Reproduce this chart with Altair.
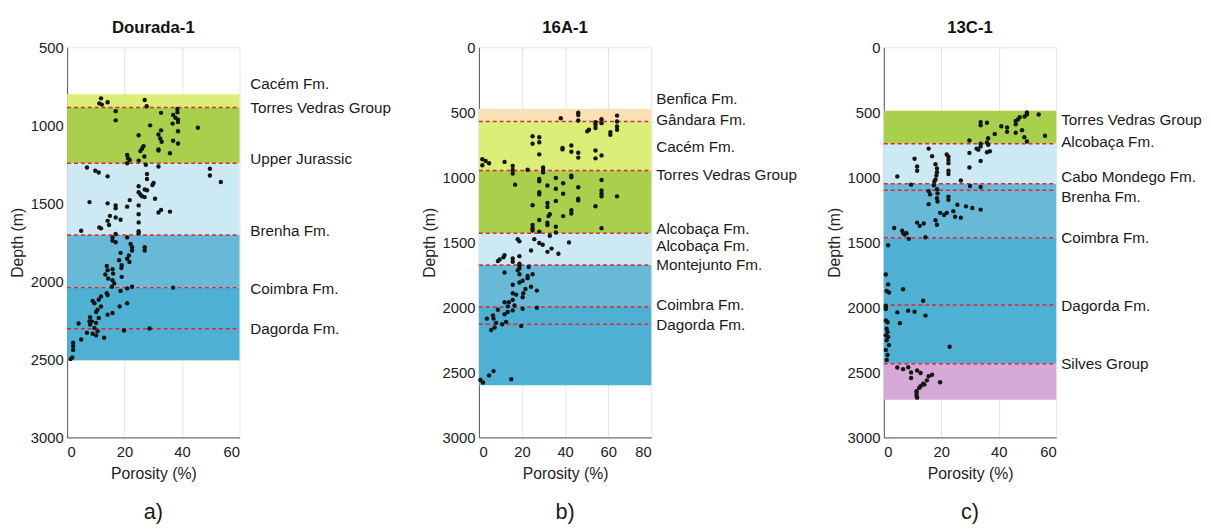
import altair as alt
import pandas as pd

W, H = 175, 396
FONT = "Liberation Sans"

# ---------------- Dourada-1 ----------------
a_points = [
    (11.8, 827), (11.2, 859), (12.1, 867), (14.1, 852), (27.0, 838), (27.7, 878), (16.9, 909), (16.9, 968),
    (32.7, 920), (38.4, 895), (38.4, 916), (36.9, 933), (37.7, 951), (38.6, 964), (38.6, 979), (36.7, 989),
    (28.9, 1000), (45.5, 1015), (38.6, 1038), (32.7, 1032), (31.8, 1059), (32.4, 1084), (32.9, 1105),
    (24.9, 1063), (36.9, 1099), (38.6, 1116), (26.6, 1133), (26.1, 1148), (25.5, 1165), (31.8, 1154),
    (31.8, 1162), (35.8, 1179), (26.9, 1200), (20.9, 1190), (21.2, 1211), (21.8, 1222), (20.9, 1243),
    (24.9, 1226), (27.4, 1253), (31.8, 1264), (6.9, 1270), (9.8, 1291), (11.0, 1302), (14.1, 1327),
    (27.8, 1312), (27.8, 1344), (49.7, 1278), (49.7, 1321), (53.5, 1363), (30.1, 1369), (29.7, 1382),
    (24.9, 1390), (27.0, 1411), (27.8, 1416), (24.9, 1428), (25.5, 1443), (26.1, 1454), (27.0, 1460),
    (30.6, 1470), (21.8, 1479), (20.9, 1521), (7.8, 1492), (14.1, 1500), (16.9, 1513), (16.9, 1532),
    (24.9, 1513), (32.7, 1542), (31.8, 1559), (35.8, 1553), (14.9, 1580), (16.9, 1591), (18.6, 1605),
    (14.1, 1612), (14.6, 1639), (11.2, 1654), (11.8, 1660), (24.9, 1570), (24.9, 1622), (24.9, 1679),
    (24.9, 1692), (4.9, 1675), (16.9, 1696),
    (15.8, 1718), (15.8, 1739), (16.9, 1749), (20.9, 1718), (22.1, 1760), (22.6, 1781), (22.6, 1802),
    (27.0, 1781), (27.0, 1802), (18.6, 1817), (21.5, 1834), (20.9, 1855), (21.7, 1876), (18.1, 1865),
    (19.0, 1897), (18.9, 1914), (13.8, 1901), (14.1, 1928), (13.3, 1956), (15.8, 1922), (16.0, 1950),
    (14.3, 1981), (15.8, 1992), (16.4, 2013), (19.0, 1971), (15.6, 2034), (18.6, 2061), (20.9, 2045),
    (22.6, 2034), (36.9, 2040), (13.8, 2076), (14.1, 2087), (11.8, 2097), (11.0, 2118), (8.9, 2125),
    (9.5, 2140), (11.8, 2161), (10.6, 2182), (10.1, 2196), (18.3, 2161), (20.9, 2140), (14.1, 2213),
    (15.8, 2203), (8.0, 2230), (7.8, 2256), (8.6, 2256), (11.0, 2234), (10.1, 2266), (8.0, 2277),
    (4.0, 2270), (9.5, 2298), (10.6, 2319), (8.9, 2336), (10.1, 2346), (6.9, 2329), (4.9, 2372),
    (12.9, 2361), (19.8, 2315), (28.7, 2302), (2.1, 2393), (2.1, 2414), (2.1, 2439), (1.8, 2488),
    (1.2, 2498),
]
a_band_top = [800, 885, 1243, 1702, 2040]
a_band_bottom = [885, 1243, 1702, 2040, 2505]
a_band_color = ["#dcee78", "#a8d04c", "#cde9f3", "#68b9d8", "#4eb0d3"]
a_lines = [885, 1243, 1702, 2040, 2304]
a_labels = ["Cacém Fm.", "Torres Vedras Group", "Upper Jurassic", "Brenha Fm.", "Coimbra Fm.", "Dagorda Fm."]
a_label_depth = [735, 892, 1215, 1677, 2051, 2304]

# ---------------- 16A-1 ----------------
b_points = [
    (46.1, 503), (46.1, 520), (46.1, 563), (38.0, 545), (64.1, 525), (64.1, 571), (64.1, 609), (64.1, 634),
    (56.9, 553), (56.9, 583), (54.1, 576), (54.1, 596), (54.1, 621), (50.3, 646), (51.1, 634), (61.0, 652),
    (61.0, 672), (24.9, 684), (24.9, 742), (28.0, 692), (28.0, 730), (28.0, 823), (38.8, 773), (38.8, 785),
    (42.9, 755), (42.9, 803), (46.1, 811), (46.1, 848), (54.1, 793), (54.1, 854), (56.9, 831), (1.6, 861),
    (1.6, 907), (3.1, 874), (4.7, 891), (11.9, 881), (15.7, 912), (15.7, 944), (15.7, 970), (16.8, 1056),
    (22.6, 942), (29.8, 924), (29.8, 944), (29.8, 962), (28.0, 1013), (28.0, 1030), (28.0, 1114),
    (28.0, 1131), (24.9, 1215), (31.8, 1063), (35.7, 1005), (35.7, 1088), (35.7, 1182), (39.1, 1045),
    (39.1, 1126), (42.9, 987), (42.9, 1000), (46.1, 1076), (46.1, 1164), (46.1, 1177), (31.8, 1197),
    (31.8, 1227), (28.0, 1328), (31.8, 1348), (32.3, 1298), (32.9, 1283), (31.8, 1366), (39.1, 1298),
    (42.9, 1253), (42.9, 1278), (35.7, 1379), (24.9, 1366), (24.9, 1391), (24.9, 1409), (28.0, 1417),
    (35.7, 1424), (32.9, 1449), (56.9, 1020), (56.9, 1101), (56.9, 1126), (56.9, 1146), (54.1, 1222),
    (64.1, 1146), (56.9, 1391), (18.0, 1475), (18.8, 1492), (25.7, 1475), (28.0, 1505), (29.6, 1518),
    (41.8, 1500),
    (24.2, 1563), (31.8, 1573), (33.7, 1548), (36.9, 1588), (11.9, 1598), (11.4, 1614), (9.6, 1631),
    (8.8, 1644), (15.7, 1624), (15.7, 1649), (18.8, 1606), (18.8, 1664), (18.8, 1682), (18.8, 1700),
    (18.0, 1715), (23.1, 1689), (11.9, 1732), (18.8, 1745), (22.6, 1758), (24.9, 1745), (18.8, 1808),
    (20.3, 1795), (22.6, 1775), (15.7, 1826), (24.2, 1841), (21.6, 1859), (26.9, 1871), (15.7, 1891),
    (17.3, 1902), (20.6, 1891), (20.3, 1922), (15.7, 1942), (13.9, 1960), (11.9, 1960), (13.4, 1992),
    (16.5, 1985), (15.7, 2023), (8.8, 2018), (11.9, 2053), (13.4, 2035), (20.3, 2010), (26.9, 2003),
    (6.5, 2061), (6.8, 2086), (3.7, 2086), (8.0, 2119), (10.8, 2129), (12.6, 2111), (7.3, 2154),
    (5.7, 2174), (19.6, 2144), (4.7, 2523), (6.8, 2490), (0.7, 2558), (1.9, 2578), (15.0, 2553),
]
b_band_top = [473, 570, 948, 1430, 1674, 1997]
b_band_bottom = [570, 948, 1430, 1674, 1997, 2598]
b_band_color = ["#f9e0b5", "#dcee78", "#a8d04c", "#cde9f3", "#68b9d8", "#4eb0d3"]
b_lines = [570, 948, 1430, 1674, 1997, 2129]
b_labels = ["Benfica Fm.", "Gândara Fm.", "Cacém Fm.", "Torres Vedras Group", "Alcobaça Fm.",
            "Alcobaça Fm.", "Montejunto Fm.", "Coimbra Fm.", "Dagorda Fm."]
b_label_depth = [399, 563, 770, 980, 1396, 1528, 1674, 1985, 2134]

# ---------------- 13C-1 ----------------
c_points = [
    (49.8, 500), (49.8, 517), (49.0, 532), (47.3, 537), (46.7, 555), (45.9, 567), (45.9, 592), (45.9, 657),
    (53.9, 517), (56.1, 680), (33.7, 575), (33.7, 600), (35.9, 580), (40.9, 607), (42.9, 617), (42.9, 650),
    (48.1, 637), (48.9, 692), (49.8, 724), (38.6, 667), (36.3, 699), (35.9, 732), (36.3, 749), (33.7, 742),
    (33.7, 762), (32.3, 779), (32.9, 787), (35.9, 807), (36.9, 799), (29.8, 717), (29.8, 812), (33.7, 874),
    (29.8, 924), (15.6, 779), (16.8, 837), (10.7, 857), (11.6, 916), (11.6, 949), (21.9, 824), (22.5, 842),
    (22.5, 867), (22.5, 892), (22.5, 949), (22.5, 974), (18.0, 899), (18.5, 931), (18.5, 961), (18.3, 986),
    (18.0, 1016), (17.6, 1031), (17.4, 1061), (4.7, 994), (9.5, 1056), (26.8, 1024), (30.0, 1066),
    (33.7, 1074), (15.6, 1106), (16.1, 1131), (18.5, 1091), (18.7, 1123), (18.5, 1161), (18.7, 1186),
    (22.5, 1148), (22.5, 1173), (15.6, 1206), (25.6, 1211), (28.6, 1223), (30.8, 1236), (33.7, 1248),
    (19.6, 1273), (21.0, 1290), (21.9, 1273), (24.2, 1260), (18.0, 1330), (18.5, 1365), (24.8, 1303),
    (26.8, 1310), (11.6, 1348), (12.5, 1373), (13.9, 1355), (3.6, 1390), (6.4, 1410), (6.8, 1430),
    (7.2, 1440), (7.9, 1430), (8.7, 1473), (14.5, 1460), (1.5, 1522),
    (0.7, 1747), (1.5, 1823), (1.0, 1874), (1.8, 1886), (6.7, 1861), (13.7, 1949), (0.7, 1987),
    (0.7, 2000), (0.7, 2013), (4.7, 2038), (8.5, 2025), (10.7, 2033), (14.5, 2063), (5.6, 2121),
    (0.7, 2101), (1.3, 2114), (1.0, 2164), (1.3, 2189), (0.7, 2215), (1.5, 2227), (1.0, 2253),
    (1.8, 2290), (0.7, 2328), (1.3, 2366), (1.0, 2404), (22.9, 2303), (4.7, 2462), (6.7, 2475),
    (8.5, 2460), (9.5, 2500), (9.5, 2543), (11.6, 2485), (12.8, 2505), (15.6, 2530), (16.8, 2518),
    (15.0, 2561), (13.7, 2586), (12.8, 2606), (12.3, 2619), (11.4, 2644), (11.4, 2662), (11.4, 2682),
    (11.6, 2694), (19.6, 2576), (14.1, 2593),
]
c_band_top = [488, 742, 1049, 1465, 2434]
c_band_bottom = [742, 1049, 1465, 2434, 2710]
c_band_color = ["#a8d04c", "#cde9f3", "#68b9d8", "#4eb0d3", "#d6a8d5"]
c_lines = [742, 1049, 1099, 1465, 1982, 2434]
c_labels = ["Torres Vedras Group", "Alcobaça Fm.", "Cabo Mondego Fm.", "Brenha Fm.", "Coimbra Fm.",
            "Dagorda Fm.", "Silves Group"]
c_label_depth = [562, 730, 1000, 1155, 1470, 1988, 2432]


def panel(title, points, ymin, xmax, band_top, band_bottom, band_color, lines, labels, label_depth,
          label_dx, letter):
    ysc = alt.Scale(domain=[ymin, 3000], reverse=True, nice=False, zero=False)
    xsc = alt.Scale(domain=[0, xmax], nice=False)
    yax = alt.Axis(values=list(range(ymin, 3001, 500)), title="Depth (m)", format="d",
                   labelPadding=4, titlePadding=5)
    xax = alt.Axis(values=list(range(0, xmax + 1, 20)), title="Porosity (%)", format="d",
                   labelPadding=7, titlePadding=7)

    def Y(field):
        return alt.Y(field, type="quantitative", scale=ysc, axis=yax)

    pts = pd.DataFrame(points, columns=["porosity", "depth"])
    bands = pd.DataFrame({"depth": band_top, "depth2": band_bottom, "color": band_color})
    rules = pd.DataFrame({"depth": lines})
    labs = pd.DataFrame({"depth": label_depth, "label": labels})
    let = pd.DataFrame({"letter": [letter]})

    band_layer = alt.Chart(bands).mark_rect().encode(
        y=Y("depth"), y2="depth2", x=alt.value(0), x2=alt.value(W),
        color=alt.Color("color:N", scale=None),
    )
    rule_layer = alt.Chart(rules).mark_rule(
        color="#e3262f", strokeDash=[4, 3], strokeWidth=1.5
    ).encode(y=Y("depth"), x=alt.value(0), x2=alt.value(W))
    pt_layer = alt.Chart(pts).mark_circle(size=20, color="#151515", opacity=1).encode(
        x=alt.X("porosity:Q", scale=xsc, axis=xax), y=Y("depth"),
    )
    lab_layer = alt.Chart(labs).mark_text(
        align="left", baseline="middle", fontSize=15.5, font=FONT, color="#1a1a1a"
    ).encode(y=Y("depth"), x=alt.value(W + label_dx), text="label:N")
    let_layer = alt.Chart(let).mark_text(
        align="center", baseline="middle", fontSize=22, font=FONT, color="#1a1a1a"
    ).encode(x=alt.value(W / 2), y=alt.value(H + 76), text="letter:N")

    return alt.layer(band_layer, rule_layer, pt_layer, lab_layer, let_layer).properties(
        width=W, height=H,
        title=alt.TitleParams(title, fontSize=17, fontWeight="bold", font=FONT, color="#111111",
                              offset=4, anchor="middle"),
    )


pa = panel("Dourada-1", a_points, 500, 60, a_band_top, a_band_bottom, a_band_color,
           a_lines, a_labels, a_label_depth, 11, "a)")
pb = panel("16A-1", b_points, 0, 80, b_band_top, b_band_bottom, b_band_color,
           b_lines, b_labels, b_label_depth, 5, "b)")
pc = panel("13C-1", c_points, 0, 60, c_band_top, c_band_bottom, c_band_color,
           c_lines, c_labels, c_label_depth, 5, "c)")

chart = alt.hconcat(alt.hconcat(pa, pb, spacing=29), pc, spacing=28).properties(
    padding={"left": 1, "top": 7, "right": 0, "bottom": 0}
).configure_view(stroke=None).configure_axis(
    zindex=1, grid=True, gridColor="#e4e4e4", gridWidth=1, ticks=False,
    domainColor="#555555", domainWidth=1,
    labelFont=FONT, labelFontSize=15, labelColor="#222222",
    titleFont=FONT, titleFontSize=16, titleFontWeight="normal", titleColor="#222222",
)

chart.save("out.html", embed_options={"renderer": "svg", "actions": False})
